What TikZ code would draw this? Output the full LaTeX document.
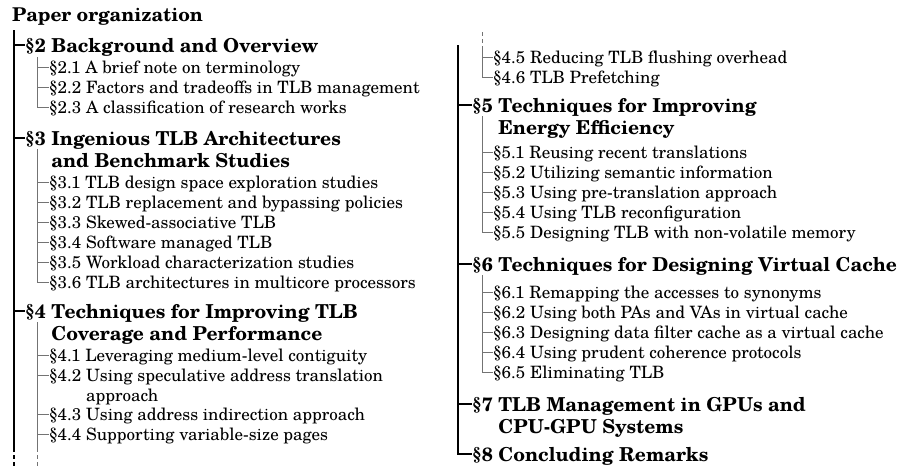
\documentclass[tikz,border=0pt]{standalone}
\usepackage{fontspec}
\setmainfont{texgyreschola}[Extension=.otf, UprightFont=*-regular, BoldFont=*-bold, ItalicFont=*-italic, BoldItalicFont=*-bolditalic]
\usetikzlibrary{calc}

\tikzset{
  titletext/.style={font=\fontsize{19}{22}\selectfont\bfseries, anchor=base west, inner sep=0pt},
  headtext/.style={font=\fontsize{19.2}{22}\selectfont\bfseries, anchor=base west, inner sep=0pt},
  subtext/.style={font=\fontsize{17}{20}\selectfont, anchor=base west, inner sep=0pt},
  trunkline/.style={line width=1.4pt, black},
  twigline/.style={line width=0.8pt, black!55},
  cut/.style={dash pattern=on 4pt off 3pt},
}
% two-line entry: label, first line, second line (hanging indent)
\newcommand\twoline[3]{\begin{tabular}[t]{@{}l@{\ }l@{}}#1 & #2\\ & #3\end{tabular}}

\begin{document}
\begin{tikzpicture}[x=1pt, y=1pt]
\useasboundingbox (0,0) rectangle (898,-466);

% ---------------- left column ----------------
\node[titletext] (title) at (12,-21) {Paper organization};
\coordinate (L) at (14,-30);
\coordinate (Lcut) at (14,-448);
\coordinate (Lend) at (14,-466);
\draw[trunkline] (L) -- (Lcut);
\draw[trunkline, cut] (Lcut) -- (Lend);

\node[headtext] (h2) at (25,-52) {\S2 Background and Overview};
\node[headtext] (h3) at (25,-145) {\twoline{\S3}{Ingenious TLB Architectures}{and Benchmark Studies}};
\node[headtext] (h4) at (25,-318) {\twoline{\S4}{Techniques for Improving TLB}{Coverage and Performance}};
\foreach \h in {h2,h3,h4}
  \draw[trunkline] ([yshift=7pt]\h.base west) -- ++(-11,0);

% section 2
\coordinate (T2) at (37,-57);
\foreach \n/\y/\t in {s21/73/{\S2.1 A brief note on terminology},
                      s22/93/{\S2.2 Factors and tradeoffs in TLB management},
                      s23/113/{\S2.3 A classification of research works}}
  \node[subtext] (\n) at (49,-\y) {\t};
\draw[twigline] (T2) |- ([yshift=6pt]s23.base west);
\foreach \n in {s21,s22}
  \draw[twigline] ([yshift=6pt]\n.base west) -- ++(-12,0);

% section 3
\coordinate (T3) at (37,-149);
\foreach \n/\y/\t in {s31/188/{\S3.1 TLB design space exploration studies},
                      s32/208/{\S3.2 TLB replacement and bypassing policies},
                      s33/228/{\S3.3 Skewed-associative TLB},
                      s34/248/{\S3.4 Software managed TLB},
                      s35/268/{\S3.5 Workload characterization studies},
                      s36/288/{\S3.6 TLB architectures in multicore processors}}
  \node[subtext] (\n) at (49,-\y) {\t};
\draw[twigline] (T3) |- ([yshift=6pt]s36.base west);
\foreach \n in {s31,s32,s33,s34,s35}
  \draw[twigline] ([yshift=6pt]\n.base west) -- ++(-12,0);

% section 4, first part
\coordinate (T4) at (37,-322);
\coordinate (T4cut) at (37,-448);
\coordinate (T4end) at (37,-466);
\node[subtext] (s41) at (49,-361) {\S4.1 Leveraging medium-level contiguity};
\node[subtext] (s42) at (49,-381) {\twoline{\S4.2}{Using speculative address translation}{approach}};
\node[subtext] (s43) at (49,-420) {\S4.3 Using address indirection approach};
\node[subtext] (s44) at (49,-440) {\S4.4 Supporting variable-size pages};
\draw[twigline] (T4) -- (T4cut);
\draw[twigline, cut] (T4cut) -- (T4end);
\foreach \n in {s41,s42,s43,s44}
  \draw[twigline] ([yshift=6pt]\n.base west) -- ++(-12,0);

% ---------------- right column ----------------
\coordinate (R) at (458,-45);
% section 4, continued
\coordinate (U4) at (482,-32);
\coordinate (U4cut) at (482,-47);
\node[subtext] (s45) at (493,-63) {\S4.5 Reducing TLB flushing overhead};
\node[subtext] (s46) at (493,-83) {\S4.6 TLB Prefetching};
\draw[twigline, cut] (U4) -- (U4cut);
\draw[twigline] (U4cut) |- ([yshift=6pt]s46.base west);
\draw[twigline] ([yshift=6pt]s45.base west) -- ++(-11,0);

\node[headtext] (h5) at (472,-112) {\twoline{\S5}{Techniques for Improving}{Energy Efficiency}};
\node[headtext] (h6) at (472,-271) {\S6 Techniques for Designing Virtual Cache};
\node[headtext] (h7) at (472,-411) {\twoline{\S7}{TLB Management in GPUs and}{CPU-GPU Systems}};
\node[headtext] (h8) at (472,-461) {\S8 Concluding Remarks};
\draw[trunkline] (R) |- ([yshift=7pt]h8.base west);
\foreach \h in {h5,h6,h7}
  \draw[trunkline] ([yshift=7pt]\h.base west) -- ++(-14,0);

% section 5
\coordinate (T5) at (482,-116);
\foreach \n/\y/\t in {s51/158/{\S5.1 Reusing recent translations},
                      s52/178/{\S5.2 Utilizing semantic information},
                      s53/198/{\S5.3 Using pre-translation approach},
                      s54/218/{\S5.4 Using TLB reconfiguration},
                      s55/238/{\S5.5 Designing TLB with non-volatile memory}}
  \node[subtext] (\n) at (493,-\y) {\t};
\draw[twigline] (T5) |- ([yshift=6pt]s55.base west);
\foreach \n in {s51,s52,s53,s54}
  \draw[twigline] ([yshift=6pt]\n.base west) -- ++(-11,0);

% section 6
\coordinate (T6) at (482,-275);
\foreach \n/\y/\t in {s61/298/{\S6.1 Remapping the accesses to synonyms},
                      s62/318/{\S6.2 Using both PAs and VAs in virtual cache},
                      s63/338/{\S6.3 Designing data filter cache as a virtual cache},
                      s64/358/{\S6.4 Using prudent coherence protocols},
                      s65/378/{\S6.5 Eliminating TLB}}
  \node[subtext] (\n) at (493,-\y) {\t};
\draw[twigline] (T6) |- ([yshift=6pt]s65.base west);
\foreach \n in {s61,s62,s63,s64}
  \draw[twigline] ([yshift=6pt]\n.base west) -- ++(-11,0);
\end{tikzpicture}
\end{document}
